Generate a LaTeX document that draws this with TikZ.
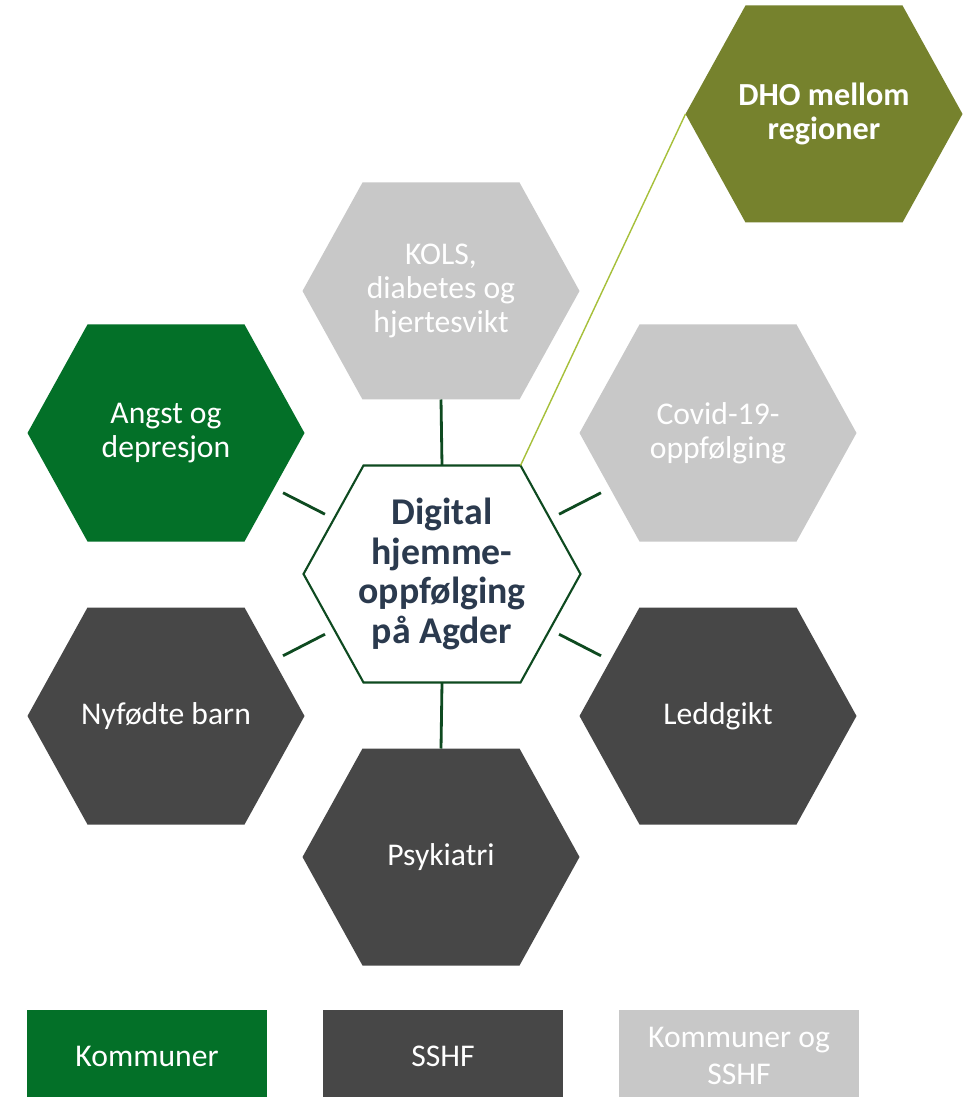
\documentclass[tikz,border=0pt]{standalone}
\usepackage{fontspec}
\setmainfont{Carlito}
\usetikzlibrary{calc}
\definecolor{kgreen}{HTML}{037028}
\definecolor{lgray}{HTML}{C8C8C8}
\definecolor{dgray}{HTML}{474747}
\definecolor{olive}{HTML}{76822D}
\definecolor{slate}{HTML}{2B3A4E}
\definecolor{cline}{HTML}{0E4A20}
\definecolor{lime}{HTML}{A6C03A}
\tikzset{
  hexfill/.style={fill=#1, draw=none},
  hextext/.style={text=white, align=center, font=\fontsize{18}{19.3}\selectfont, inner sep=0pt},
  linkline/.style={draw=cline, line width=1.6pt},
  legendbox/.style={fill=#1, text=white, minimum width=4.82cm, minimum height=1.84cm, inner sep=0pt, align=center, font=\fontsize{18}{21}\selectfont}
}
\newcommand\hexa[6]{%
  \begin{scope}[shift={(#2,#3)}]
    \path[#4] (-138.5,0) -- (-78.5,-108.5) -- (78.5,-108.5) -- (138.5,0) -- (78.5,108.5) -- (-78.5,108.5) -- cycle;
    \coordinate (#1-t) at (0,-108.5);
    \coordinate (#1-b) at (0,108.5);
    \coordinate (#1-l) at (-138.5,0);
    \coordinate (#1-tr) at (78.5,-108.5);
    \node[#5] (#1) at (0,0) {#6};
  \end{scope}}
\begin{document}
\begin{tikzpicture}[x=0.02cm, y=-0.02cm]
\useasboundingbox (0,0) rectangle (972,1097);
\fill[white] (0,0) rectangle (972,1097);
% hexagons
\hexa{kols}{441}{291}{hexfill=lgray}{hextext}{KOLS,\\diabetes og\\hjertesvikt}
\hexa{angst}{166}{433}{hexfill=kgreen}{hextext}{Angst og\\depresjon}
\hexa{covid}{718}{433}{hexfill=lgray}{hextext}{Covid-19-\\oppfølging}
\hexa{nyf}{166}{716}{hexfill=dgray}{hextext}{Nyfødte barn}
\hexa{ledd}{718}{716}{hexfill=dgray}{hextext}{Leddgikt}
\hexa{psyk}{441}{857}{hexfill=dgray}{hextext}{Psykiatri}
\hexa{dho}{824}{114}{hexfill=olive}{hextext, font=\bfseries\fontsize{18.3}{19.3}\selectfont}{DHO mellom\\regioner}
\hexa{c}{442}{574}{fill=white, draw=cline, line width=1.2pt}{text=slate, align=center, inner sep=0pt, font=\bfseries\fontsize{21.5}{22.7}\selectfont}{Digital\\hjemme-\\oppfølging\\på Agder}
% connectors
\draw[linkline] (c-t) -- (kols-b);
\draw[linkline] (c-b) -- (psyk-t);
\draw[linkline] ($(c)!0.424!(angst)$) -- ($(c)!0.576!(angst)$);
\draw[linkline] ($(c)!0.424!(nyf)$) -- ($(c)!0.576!(nyf)$);
\draw[linkline] ($(c)!0.424!(covid)$) -- ($(c)!0.576!(covid)$);
\draw[linkline] ($(c)!0.424!(ledd)$) -- ($(c)!0.576!(ledd)$);
\draw[draw=lime, line width=0.8pt] (c-tr) -- (dho-l);
% legend
\node[legendbox=kgreen] (lk) at (147,1056) {Kommuner};
\node[legendbox=dgray] (ls) at (443,1056) {SSHF};
\node[legendbox=lgray] (lks) at (739,1056) {Kommuner og\\SSHF};
\end{tikzpicture}
\end{document}
